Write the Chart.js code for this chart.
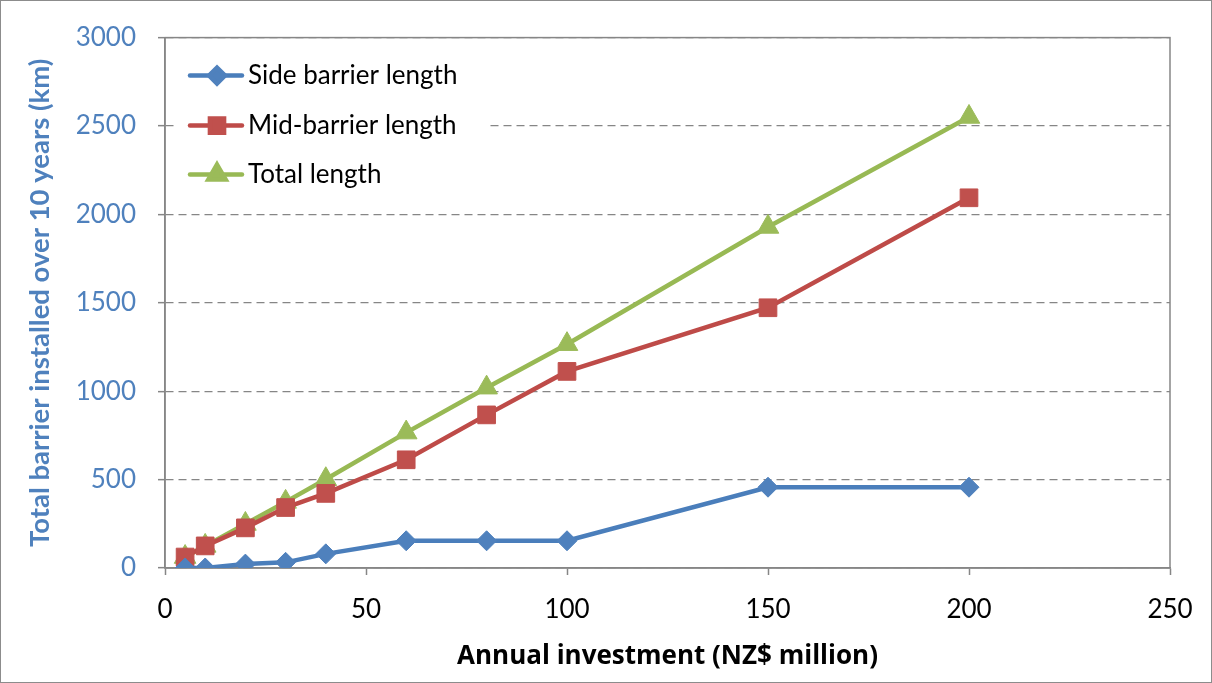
<!DOCTYPE html>
<html>
<head>
<meta charset="utf-8">
<script src="https://cdn.jsdelivr.net/npm/chart.js@4/dist/chart.umd.min.js"></script>
<style>
  html, body { margin: 0; padding: 0; background: #fff; }
  #wrap { width: 1212px; height: 683px; position: relative; }
</style>
</head>
<body>
<div id="wrap"><canvas id="chart" width="1212" height="683"></canvas></div>
<script>
// Annual investment (NZ$ million) and barrier installed over 10 years (km)
const investment   = [5, 10, 20, 30, 40, 60, 80, 100, 150, 200];
const sideBarrier  = [0, 0, 22, 32, 80, 154, 154, 154, 457, 457];
const midBarrier   = [62, 125, 227, 342, 422, 612, 866, 1112, 1472, 2094];
const totalLength  = [62, 125, 249, 374, 502, 766, 1020, 1266, 1929, 2551];
const seriesNames  = ['Side barrier length', 'Mid-barrier length', 'Total length'];
const xTickValues  = [0, 50, 100, 150, 200, 250];
const yTickValues  = [0, 500, 1000, 1500, 2000, 2500, 3000];

const FONT = 'Lato, "Liberation Sans", sans-serif';
const TITLE_X_FONT = '"Open Sans", Lato, sans-serif';
const AXIS_GREY = '#868686';
const BLUE_TEXT = '#4F81BD';

const toPoints = vals => vals.map((v, i) => ({ x: investment[i], y: v }));

// Legend drawn inside the plot area, top-left
const innerLegend = {
  id: 'innerLegend',
  afterDatasetsDraw(chart) {
    const ctx = chart.ctx;
    const area = chart.chartArea;
    const x0 = area.left + 13, y0 = area.top + 13;
    ctx.save();
    ctx.fillStyle = '#fff';
    ctx.fillRect(x0, y0, 308, 150);
    const rows = [area.top + 38, area.top + 88, area.top + 137];
    chart.data.datasets.forEach((ds, i) => {
      const y = rows[i];
      ctx.strokeStyle = ds.borderColor;
      ctx.lineWidth = ds.borderWidth;
      ctx.lineCap = 'round';
      ctx.beginPath();
      ctx.moveTo(area.left + 25, y);
      ctx.lineTo(area.left + 77, y);
      ctx.stroke();
      ctx.fillStyle = ds.pointBackgroundColor;
      ctx.strokeStyle = ds.pointBorderColor;
      Chart.helpers.drawPoint(ctx, {
        pointStyle: ds.pointStyle, rotation: 0,
        radius: ds.pointRadius * 0.8, borderWidth: 1
      }, area.left + 52, y);
      ctx.fillStyle = '#000';
      ctx.font = '26px ' + FONT;
      ctx.textBaseline = 'middle';
      ctx.textAlign = 'left';
      ctx.fillText(ds.label, area.left + 83, y);
    });
    ctx.restore();
  }
};

// Plot-area frame and outer chart border
const frames = {
  id: 'frames',
  beforeDatasetsDraw(chart) {
    const ctx = chart.ctx;
    const a = chart.chartArea;
    ctx.save();
    ctx.strokeStyle = AXIS_GREY;
    ctx.lineWidth = 1.5;
    ctx.strokeRect(a.left, a.top, a.right - a.left, a.bottom - a.top);
    ctx.restore();
  },
  afterDraw(chart) {
    const ctx = chart.ctx;
    ctx.save();
    ctx.strokeStyle = '#8c8c8c';
    ctx.lineWidth = 1;
    ctx.strokeRect(0.5, 0.5, chart.width - 1, chart.height - 1);
    ctx.restore();
  }
};

const colours = [
  { line: '#4A7EBB', mark: '#4F81BD', style: 'rectRot', r: 10 },
  { line: '#BE4B48', mark: '#C0504D', style: 'rect', r: 12.5 },
  { line: '#98B954', mark: '#9BBB59', style: 'triangle', r: 12.5 }
];
const values = [sideBarrier, midBarrier, totalLength];

new Chart(document.getElementById('chart'), {
  type: 'line',
  data: {
    datasets: values.map((vals, i) => ({
      label: seriesNames[i],
      data: toPoints(vals),
      borderColor: colours[i].line,
      borderWidth: 4.5,
      pointStyle: colours[i].style,
      pointRadius: colours[i].r,
      pointBackgroundColor: colours[i].mark,
      pointBorderColor: colours[i].mark,
      pointBorderWidth: 1,
      tension: 0,
      fill: false
    }))
  },
  options: {
    responsive: false,
    animation: false,
    events: [],
    layout: { padding: { top: 35, right: 42, left: 0, bottom: 0 } },
    plugins: { legend: { display: false }, tooltip: { enabled: false } },
    scales: {
      x: {
        type: 'linear',
        min: 0, max: 250,
        afterBuildTicks(scale) { scale.ticks = xTickValues.map(v => ({ value: v })); },
        afterFit(scale) { scale.height = 115; },
        ticks: { color: '#000', font: { family: FONT, size: 26 }, padding: 19, maxRotation: 0,
                 callback: v => String(v) },
        grid: { drawOnChartArea: false, drawTicks: true, tickLength: 7, tickColor: AXIS_GREY, tickWidth: 1.5 },
        border: { display: true, color: AXIS_GREY, width: 1.5 },
        title: {
          display: true, text: 'Annual investment (NZ$ million)', color: '#000',
          font: { family: TITLE_X_FONT, size: 26, weight: 'bold' }, padding: { top: 0, bottom: 11 }
        }
      },
      y: {
        type: 'linear',
        min: 0, max: 3000,
        afterBuildTicks(scale) { scale.ticks = yTickValues.map(v => ({ value: v })); },
        afterFit(scale) { scale.width = 165; },
        ticks: { color: BLUE_TEXT, font: { family: FONT, size: 26 }, padding: 22,
                 callback: v => String(v) },
        grid: {
          color: AXIS_GREY, lineWidth: 1.3,
          tickLength: 7, tickColor: AXIS_GREY, tickWidth: 1.5, tickBorderDash: []
        },
        border: { display: true, color: AXIS_GREY, width: 1.5, dash: [8, 5] },
        title: {
          display: true, text: 'Total barrier installed over 10 years (km)', color: BLUE_TEXT,
          font: { family: FONT, size: 27.5, weight: 'bold' }, padding: { top: 24, bottom: 0 }
        }
      }
    }
  },
  plugins: [frames, innerLegend]
});
</script>
</body>
</html>
